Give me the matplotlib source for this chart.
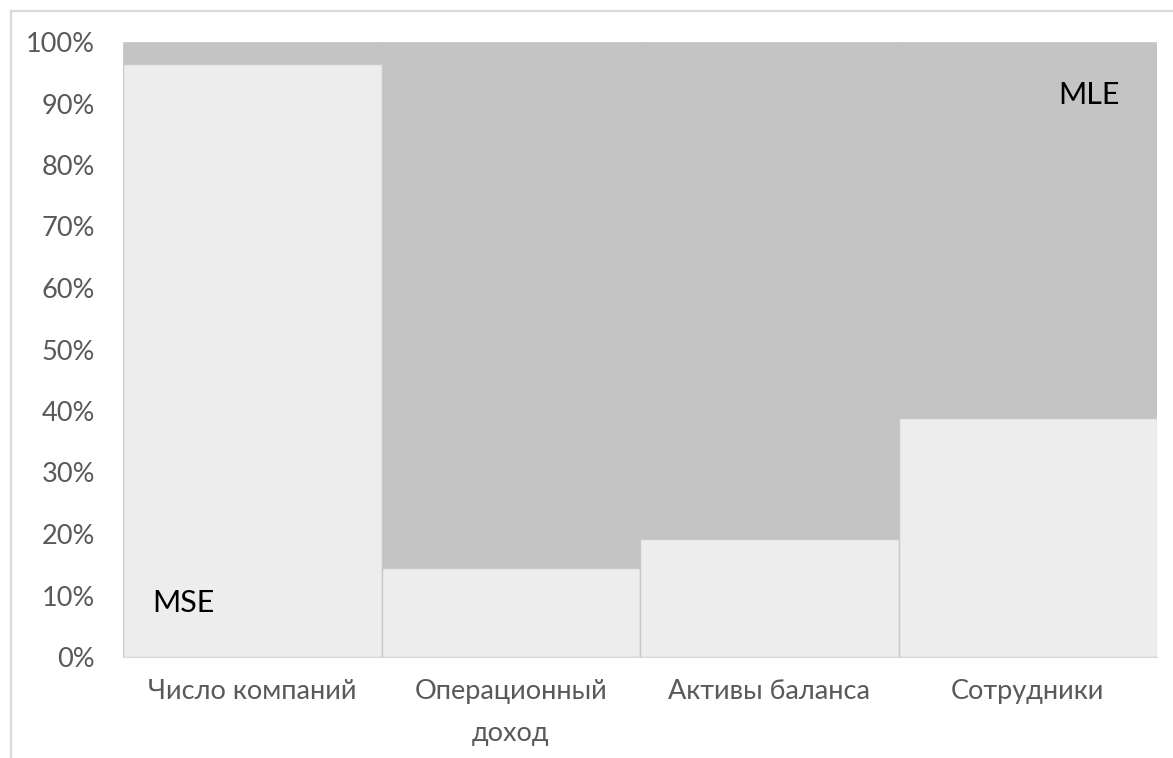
import matplotlib
matplotlib.use('Agg')
import matplotlib.pyplot as plt
from matplotlib.patches import Rectangle
from matplotlib.ticker import FuncFormatter

categories = ['Число компаний', 'Операционный\nдоход', 'Активы баланса', 'Сотрудники']
mse = [96.4, 14.5, 19.2, 38.9]
mle = [100 - v for v in mse]

plt.rcParams['font.family'] = ['Lato', 'DejaVu Sans']

fig = plt.figure(figsize=(11.73, 7.58), dpi=100)
ax = fig.add_axes([123 / 1173, 1 - 657 / 758, (1157 - 123) / 1173, (657 - 42) / 758])

# outer chart frame (clipped at right and bottom in the original)
fig.patches.append(Rectangle((11 / 1173, -0.05), 1.2, 1 - 11 / 758 + 0.05,
                             transform=fig.transFigure, fill=False,
                             edgecolor='#d9d9d9', linewidth=1.6))

x = range(len(categories))
ax.bar(x, mle, bottom=mse, width=1.0, color='#c4c4c4', edgecolor='#c4c4c4', linewidth=0.5)
ax.bar(x, mse, width=1.0, color='#ededed', edgecolor='#c8c8c8', linewidth=1.0)

ax.set_xlim(-0.5, 3.5)
ax.set_ylim(0, 100)
ax.set_yticks(range(0, 101, 10))
ax.yaxis.set_major_formatter(FuncFormatter(lambda v, p: f'{int(v)}%'))
ax.set_xticks(list(x))
ax.set_xticklabels(categories, linespacing=1.85)
ax.tick_params(axis='both', length=0, labelsize=19.5, colors='#595959')
ax.tick_params(axis='y', pad=20)
ax.tick_params(axis='x', pad=16)

for s in ['top', 'right', 'left']:
    ax.spines[s].set_visible(False)
ax.spines['bottom'].set_color('#d9d9d9')

ax.text(-0.385, 8.8, 'MSE', fontsize=22, color='black', va='center', ha='left')
ax.text(3.357, 91.4, 'MLE', fontsize=22, color='black', va='center', ha='right')

plt.savefig('out.png', dpi=100)
